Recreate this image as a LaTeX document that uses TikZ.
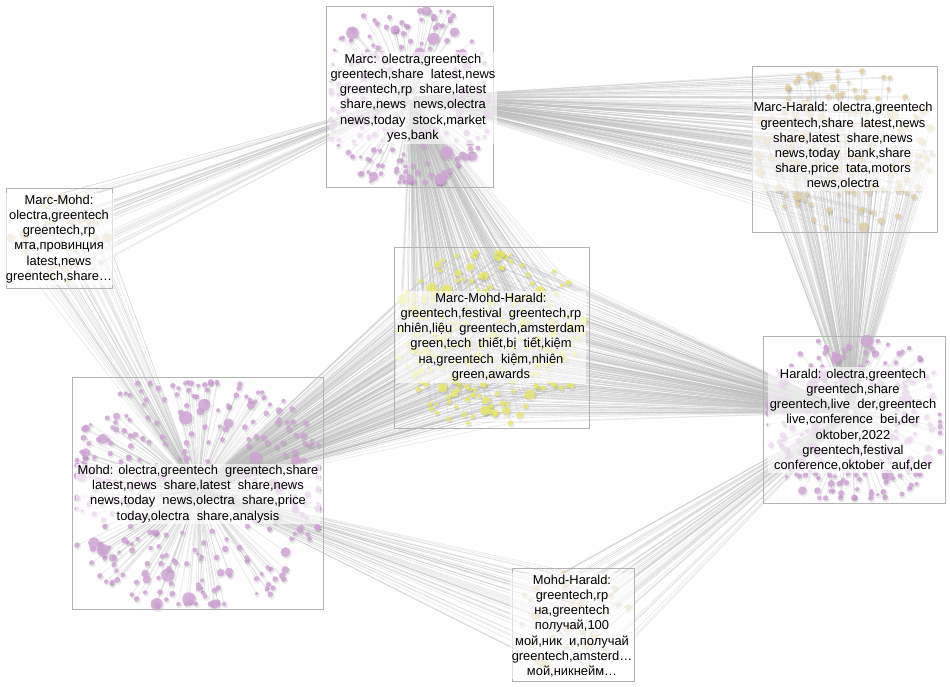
\documentclass[tikz,border=0pt]{standalone}
\usepackage{fontspec}
\setmainfont{Liberation Sans}
\definecolor{dotpurple}{RGB}{208,166,214}
\definecolor{dottan}{RGB}{226,208,166}
\definecolor{dotyellow}{RGB}{234,234,108}
\definecolor{edgegray}{RGB}{190,190,190}
\definecolor{boxgray}{RGB}{178,178,178}
\definecolor{hubfill}{RGB}{245,240,220}
\tikzset{
  edgeline/.style={draw=edgegray, line width=0.55pt, opacity=0.4},
  dotshadow/.style={fill=black, opacity=0.08},
  groupbox/.style={draw=boxgray, line width=0.9pt, rectangle, inner sep=0pt, fill=none},
  grouplabel/.style={align=center, font=\fontsize{12.9}{15.2}\selectfont, fill=white, fill opacity=0.62, text opacity=1, inner sep=1.5pt},
  hubnode/.style={rectangle, fill=hubfill, draw=boxgray!60, line width=0.3pt, minimum size=5pt, inner sep=0pt},
}
\newif\ifedgepass
% main group: #1 count, #2 L, #3 T, #4 R, #5 B, #6 colour, #7 hub, #8 inner radius
\newcommand{\hubdots}[8]{%
  \pgfmathsetmacro{\cxx}{(#2+#4)/2}%
  \pgfmathsetmacro{\cyy}{(#3+#5)/2}%
  \pgfmathsetmacro{\rxx}{(#4-#2)/2-4}%
  \pgfmathsetmacro{\ryy}{(#5-#3)/2-4}%
  \foreach \i in {1,...,#1}{%
    \pgfmathsetmacro{\ang}{360*rnd}%
    \pgfmathsetmacro{\rad}{#8+(1.1-#8)*sqrt(rnd)}%
    \pgfmathsetmacro{\px}{max(#2+5,min(#4-5,\cxx+\rxx*\rad*cos(\ang)))}%
    \pgfmathsetmacro{\py}{max(#3+5,min(#5-5,\cyy+\ryy*\rad*sin(\ang)))}%
    \pgfmathsetmacro{\sz}{1.9+1.0*rnd+4.0*rnd^12}%
    \pgfmathsetmacro{\sh}{\sz+0.6}%
    \ifedgepass
      \draw[edgeline] (#7) -- (\px,\py);
    \else
      \fill[dotshadow] (\px+1,\py+1.5) circle[radius=\sh pt];
      \fill[#6, opacity=0.85] (\px,\py) circle[radius=\sz pt];
    \fi
  }%
}
% bridge group: #1 count, #2 L, #3 T, #4 R, #5 B, #6 colour, #7 hubs
\newcommand{\bridgedots}[7]{%
  \pgfmathsetmacro{\cxx}{(#2+#4)/2}%
  \pgfmathsetmacro{\cyy}{(#3+#5)/2}%
  \pgfmathsetmacro{\rxx}{(#4-#2)/2-5}%
  \pgfmathsetmacro{\ryy}{(#5-#3)/2-5}%
  \foreach \i in {1,...,#1}{%
    \pgfmathsetmacro{\ang}{360*rnd}%
    \pgfmathsetmacro{\rad}{1.06*sqrt(rnd)}%
    \pgfmathsetmacro{\px}{max(#2+5,min(#4-5,\cxx+\rxx*\rad*cos(\ang)))}%
    \pgfmathsetmacro{\py}{max(#3+5,min(#5-5,\cyy+\ryy*\rad*sin(\ang)))}%
    \pgfmathsetmacro{\sz}{1.9+1.0*rnd+3.5*rnd^12}%
    \pgfmathsetmacro{\sh}{\sz+0.6}%
    \ifedgepass
      \foreach \h in {#7}{\draw[edgeline] (\h) -- (\px,\py);}
    \else
      \fill[dotshadow] (\px+1,\py+1.5) circle[radius=\sh pt];
      \fill[#6, opacity=0.8] (\px,\py) circle[radius=\sz pt];
    \fi
  }%
}
\newcommand{\allgroups}{%
  \hubdots{200}{326}{6}{493}{187}{dotpurple}{marcH}{0.3}%
  \hubdots{330}{72}{377}{323}{609}{dotpurple}{mohdH}{0.24}%
  \hubdots{200}{763}{336}{945}{503}{dotpurple}{haraldH}{0.3}%
  \bridgedots{190}{752}{66}{937}{232}{dottan}{marcH,haraldH}%
  \bridgedots{230}{394}{247}{589}{428}{dotyellow}{marcH,mohdH,haraldH}%
  \bridgedots{40}{6}{188}{112}{288}{dottan}{marcH,mohdH}%
  \bridgedots{50}{512}{568}{634}{681}{dottan}{mohdH,haraldH}%
}
\begin{document}
\begin{tikzpicture}[x=1pt, y=-1pt]
\useasboundingbox (0,0) rectangle (950,686);
\fill[white] (0,0) rectangle (950,686);
% hubs
\coordinate (marcH) at (411,97);
\coordinate (mohdH) at (198,490);
\coordinate (haraldH) at (851,412);
% edges pass
\pgfmathsetseed{7}
\edgepasstrue
\allgroups
% dots pass (same random sequence)
\pgfmathsetseed{7}
\edgepassfalse
\allgroups
% hub markers
\node[hubnode] (marcHub) at (marcH) {};
\node[hubnode] (mohdHub) at (mohdH) {};
\node[hubnode] (haraldHub) at (haraldH) {};
% group boxes
\node[groupbox, minimum width=167pt, minimum height=181pt] (marcBox) at (409.5,96.5) {};
\node[groupbox, minimum width=185pt, minimum height=166pt] (marcharaldBox) at (844.5,149) {};
\node[groupbox, minimum width=106pt, minimum height=100pt] (marcmohdBox) at (59,238) {};
\node[groupbox, minimum width=195pt, minimum height=181pt] (mmhBox) at (491.5,337.5) {};
\node[groupbox, minimum width=182pt, minimum height=167pt] (haraldBox) at (854,419.5) {};
\node[groupbox, minimum width=251pt, minimum height=232pt] (mohdBox) at (197.5,493) {};
\node[groupbox, minimum width=122pt, minimum height=113pt] (mohdharaldBox) at (573,624.5) {};
% labels
\node[grouplabel] (marcL) at (413,98) {Marc: olectra,greentech\\greentech,share~\ latest,news\\greentech,rp~\ share,latest\\share,news~\ news,olectra\\news,today~\ stock,market\\yes,bank};
\node[grouplabel] (marcharaldL) at (843,146) {Marc-Harald: olectra,greentech\\greentech,share~\ latest,news\\share,latest~\ share,news\\news,today~\ bank,share\\share,price~\ tata,motors\\news,olectra};
\node[grouplabel] (marcmohdL) at (59,239) {Marc-Mohd:\\olectra,greentech\\greentech,rp\\мта,провинция\\latest,news\\greentech,share…};
\node[grouplabel] (mmhL) at (491,337) {Marc-Mohd-Harald:\\greentech,festival~\ greentech,rp\\nhiên,liệu~\ greentech,amsterdam\\green,tech~\ thiết,bị~\ tiết,kiệm\\на,greentech~\ kiệm,nhiên\\green,awards};
\node[grouplabel] (haraldL) at (853,420) {Harald: olectra,greentech\\greentech,share\\greentech,live~\ der,greentech\\live,conference~\ bei,der\\oktober,2022\\greentech,festival\\conference,oktober~\ auf,der};
\node[grouplabel] (mohdL) at (198,494) {Mohd: olectra,greentech~\ greentech,share\\latest,news~\ share,latest~\ share,news\\news,today~\ news,olectra~\ share,price\\today,olectra~\ share,analysis};
\node[grouplabel] (mohdharaldL) at (572,626) {Mohd-Harald:\\greentech,rp\\на,greentech\\получай,100\\мой,ник~\ и,получай\\greentech,amsterd…\\мой,никнейм…};
\end{tikzpicture}
\end{document}
